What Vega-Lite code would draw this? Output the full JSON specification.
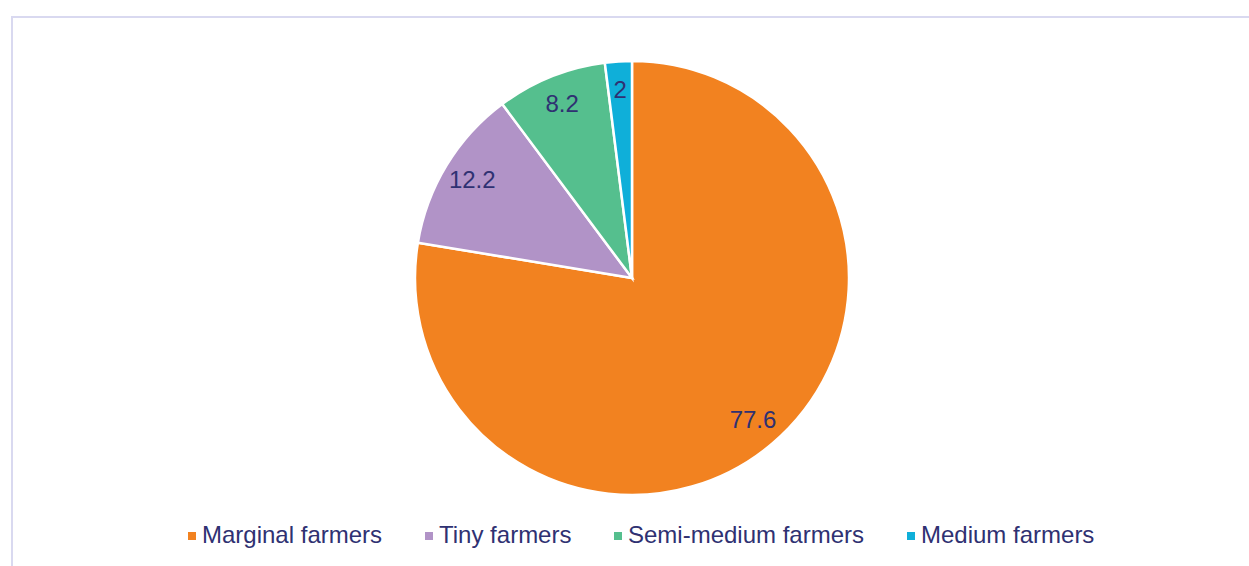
{
  "$schema": "https://vega.github.io/schema/vega-lite/v6.json",
  "autosize": "none",
  "padding": {"left": 12, "top": 17, "right": 0, "bottom": 0},
  "width": 1240,
  "height": 560,
  "background": "white",
  "view": {"stroke": "#d9d9f0", "strokeWidth": 2},
  "config": {
    "view": {"stroke": "#d9d9f0", "strokeWidth": 2},
    "font": "Liberation Sans"
  },
  "data": {
    "values": [
      {"category": "Marginal farmers", "value": 77.6, "order": 1},
      {"category": "Tiny farmers", "value": 12.2, "order": 2},
      {"category": "Semi-medium farmers", "value": 8.2, "order": 3},
      {"category": "Medium farmers", "value": 2, "order": 4}
    ]
  },
  "encoding": {
    "theta": {"field": "value", "type": "quantitative", "stack": true},
    "order": {"field": "order", "type": "quantitative"}
  },
  "layer": [
    {
      "mark": {"type": "arc", "outerRadius": 217, "x": 620, "y": 261, "stroke": "white", "strokeWidth": 2.5},
      "encoding": {
        "color": {
          "field": "category",
          "type": "nominal",
          "sort": ["Marginal farmers", "Tiny farmers", "Semi-medium farmers", "Medium farmers"],
          "scale": {
            "domain": ["Marginal farmers", "Tiny farmers", "Semi-medium farmers", "Medium farmers"],
            "range": ["#F28220", "#B193C7", "#55BF8E", "#0FAFD9"]
          },
          "legend": {
            "title": null,
            "orient": "none",
            "direction": "horizontal",
            "legendX": 168,
            "legendY": 507,
            "symbolType": "square",
            "symbolSize": 64,
            "symbolStrokeWidth": 0,
            "labelFontSize": 24,
            "labelFont": "Liberation Sans",
            "labelColor": "#2F3172",
            "labelOffset": -2,
            "columnPadding": 34,
            "gridAlign": "none",
            "labelLimit": 400
          }
        }
      }
    },
    {
      "mark": {"type": "text", "radius": 187, "x": 620, "y": 261, "fontSize": 24, "font": "Liberation Sans", "fill": "#2F3172"},
      "encoding": {
        "text": {"field": "value", "type": "quantitative"}
      }
    }
  ]
}
